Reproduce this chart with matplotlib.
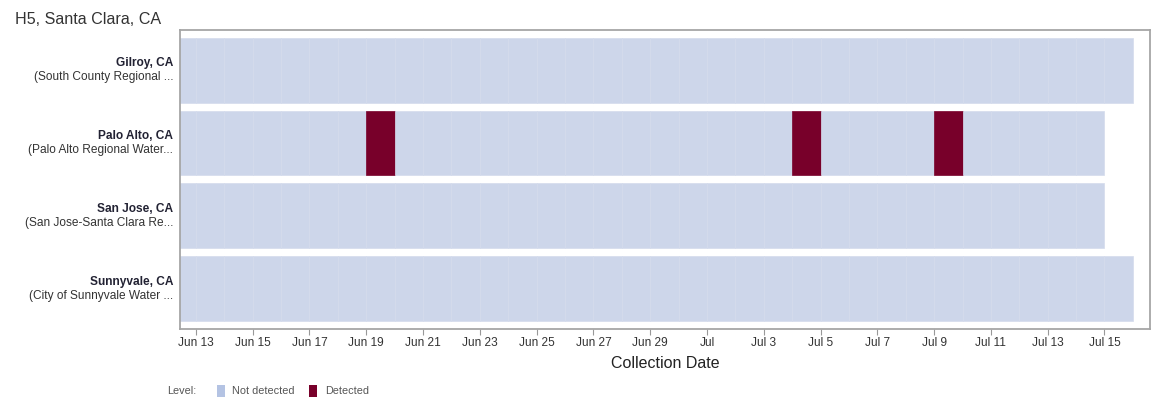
import numpy as np
import pandas as pd
import matplotlib
matplotlib.use('Agg')
import matplotlib.pyplot as plt
import matplotlib.dates as mdates
from matplotlib.patches import Rectangle

plt.rcParams['font.family'] = ['Liberation Sans', 'DejaVu Sans']

sites = ['Gilroy, CA', 'Palo Alto, CA', 'San Jose, CA', 'Sunnyvale, CA']
plants = ['(South County Regional ...', '(Palo Alto Regional Water...',
          '(San Jose-Santa Clara Re...', '(City of Sunnyvale Water ...']
first_day = ['2024-06-12', '2024-06-12', '2024-06-12', '2024-06-12']
last_day = ['2024-07-15', '2024-07-14', '2024-07-14', '2024-07-15']
detected = [[], ['2024-06-19', '2024-07-04', '2024-07-09'], [], []]

tick_dates = pd.date_range('2024-06-13', '2024-07-15', freq='2D')
tick_labels = ['Jun 13', 'Jun 15', 'Jun 17', 'Jun 19', 'Jun 21', 'Jun 23', 'Jun 25',
               'Jun 27', 'Jun 29', 'Jul', 'Jul 3', 'Jul 5', 'Jul 7', 'Jul 9',
               'Jul 11', 'Jul 13', 'Jul 15']

c_none = '#cdd6ea'
c_det = '#78002a'

fig = plt.figure(figsize=(11.71, 4.05), dpi=100)
ax = fig.add_axes([0.1537, 0.1877, 0.8283, 0.7383])

for i, site in enumerate(sites):
    days = pd.date_range(first_day[i], last_day[i], freq='D')
    det = set(pd.to_datetime(detected[i]))
    for d in days:
        x0 = mdates.date2num(d)
        col = c_det if d in det else c_none
        ax.add_patch(Rectangle((x0, i - 0.445), 1, 0.89, facecolor=col,
                               edgecolor='#d4dbec' if col == c_none else col, lw=0.5))

xmin = mdates.date2num(pd.Timestamp('2024-06-12')) + 0.44
xmax = mdates.date2num(pd.Timestamp('2024-07-16')) + 0.6
ax.set_xlim(xmin, xmax)
ax.set_ylim(3.55, -0.55)

ax.set_xticks(mdates.date2num(tick_dates))
ax.set_xticklabels(tick_labels, fontsize=8.6, color='#333333')
ax.tick_params(axis='x', length=4, color='#999999', pad=2)
ax.set_yticks([])
for s in ax.spines.values():
    s.set_color('#a6a6a6')
    s.set_linewidth(1.3)

for i, site in enumerate(sites):
    ax.annotate(site, xy=(0, i), xycoords=('axes fraction', 'data'),
                xytext=(-5, 5.2), textcoords='offset points', ha='right', va='center',
                fontsize=8.6, fontweight='bold', color='#222233')
    ax.annotate(plants[i], xy=(0, i), xycoords=('axes fraction', 'data'),
                xytext=(-5, -5.0), textcoords='offset points', ha='right', va='center',
                fontsize=8.6, color='#333333')

ax.set_xlabel('Collection Date', fontsize=11.5, color='#222222', labelpad=5)
fig.text(15 / 1171, 1 - 19 / 405, 'H5, Santa Clara, CA', fontsize=11.6,
         color='#333333', va='center')

# legend row
ly = 1 - 391 / 405
fig.text(167 / 1171, ly, 'Level:', fontsize=7.8, color='#555555', va='center')
fig.patches.append(Rectangle((217 / 1171, ly - 6 / 405), 8 / 1171, 12 / 405,
                             transform=fig.transFigure, facecolor='#b4c3e3'))
fig.text(232 / 1171, ly, 'Not detected', fontsize=7.8, color='#555555', va='center')
fig.patches.append(Rectangle((309 / 1171, ly - 6 / 405), 8 / 1171, 12 / 405,
                             transform=fig.transFigure, facecolor=c_det))
fig.text(325 / 1171, ly, 'Detected', fontsize=7.8, color='#555555', va='center')

fig.savefig('out.png', dpi=100)
